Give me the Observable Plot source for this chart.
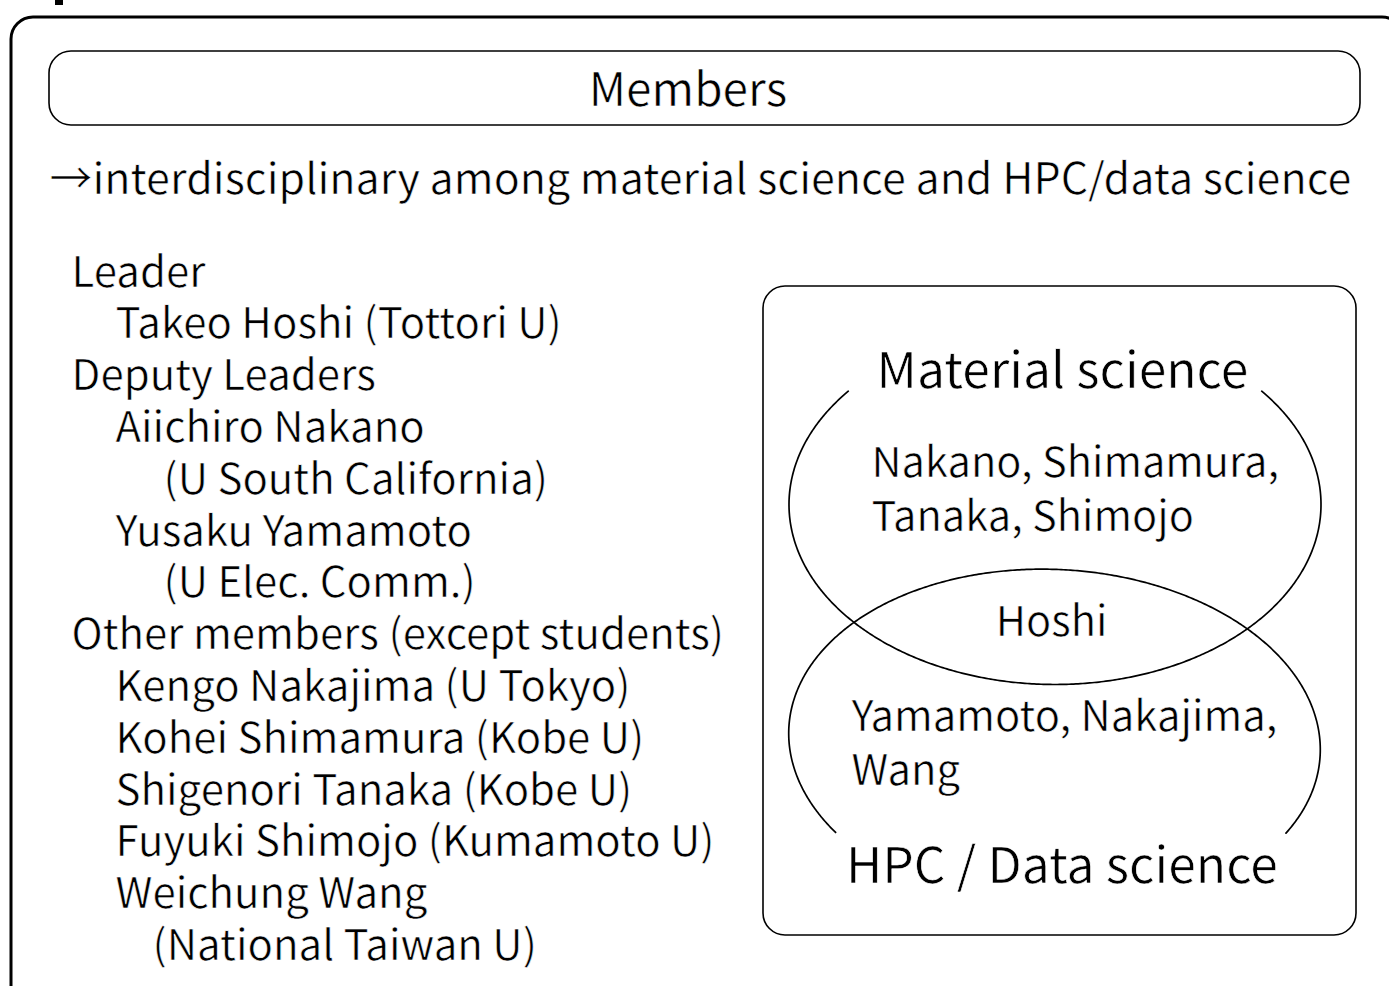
<!DOCTYPE html>
<html><head><meta charset="utf-8">
<script src="https://cdn.jsdelivr.net/npm/d3@7"></script>
<script src="https://cdn.jsdelivr.net/npm/@observablehq/plot@0.6"></script>
<style>body{margin:0;background:#fff;overflow:hidden}</style>
</head><body><div id="chart"></div>
<script>
// ---- content ----
const titleText = ["Members"];
const subtitleText = ["→interdisciplinary among material science and HPC/data science"];
const memberText = [
  "Leader",
  "Takeo Hoshi (Tottori U)",
  "Deputy Leaders",
  "Aiichiro Nakano",
  "(U South California)",
  "Yusaku Yamamoto",
  "(U Elec. Comm.)",
  "Other members (except students)",
  "Kengo Nakajima (U Tokyo)",
  "Kohei Shimamura (Kobe U)",
  "Shigenori Tanaka (Kobe U)",
  "Fuyuki Shimojo (Kumamoto U)",
  "Weichung Wang",
  "(National Taiwan U)"
];
const memberLevel = [0, 1, 0, 1, 2, 1, 2, 0, 1, 1, 1, 1, 1, 3];
const setNames = ["Material science", "HPC / Data science"];
const materialOnly = ["Nakano, Shimamura,", "Tanaka, Shimojo"];
const bothSets = ["Hoshi"];
const hpcOnly = ["Yamamoto, Nakajima,", "Wang"];

// ---- layout (pixel space) ----
const FONT = "'Noto Sans CJK JP', 'Noto Sans', sans-serif";
const W = 1389, H = 986;
const boxes = [
  {x1: 11, y1: 17, x2: 1404, y2: 1012, sw: 3},     // outer frame (clipped)
  {x1: 49, y1: 51, x2: 1360, y2: 125, sw: 1.6},    // title box
  {x1: 763, y1: 286, x2: 1356, y2: 935, sw: 1.6}   // venn box
];
const topMark = [{x1: 55, x2: 63, y1: 0, y2: 5}];
const indent = [71, 115, 163, 152];
const listTop = 286, listStep = 51.8;
const setPos = [{x: 1062, y: 387}, {x: 1061.5, y: 882}];
const materialPos = {x: 871, y0: 476, step: 54};
const bothPos = {x: 1051, y: 635};
const hpcPos = {x: 851, y0: 730, step: 54};
const ellipses = [
  {id: "upper", cx: 1054.5, cy: 504, rx: 266, ry: 180, rot: 0, start: -Math.PI / 2, keep: y => y > 390},
  {id: "lower", cx: 1054, cy: 741, rx: 266, ry: 172, rot: 3 * Math.PI / 180, start: Math.PI / 2, keep: y => y < 833}
];

// ellipse outlines (shape geometry from the ellipse parameters)
const outline = [];
for (const e of ellipses) {
  const n = 720;
  for (let i = 0; i <= n; i++) {
    const t = e.start + (i / n) * 2 * Math.PI;
    const ux = e.rx * Math.cos(t), uy = e.ry * Math.sin(t);
    const x = e.cx + ux * Math.cos(e.rot) - uy * Math.sin(e.rot);
    const y = e.cy + ux * Math.sin(e.rot) + uy * Math.cos(e.rot);
    if (e.keep(y)) outline.push({id: e.id, x, y});
  }
}

const textStyle = {text: d => d, lineAnchor: "bottom", fontFamily: FONT, fill: "black", stroke: "white", strokeWidth: 0.6, paintOrder: "normal"};

const plot = Plot.plot({
  width: W, height: H, margin: 0,
  x: {domain: [0, W], range: [0, W], axis: null},
  y: {domain: [0, H], range: [0, H], axis: null},
  style: {background: "white", fontFamily: FONT},
  marks: [
    Plot.rect(boxes, {x1: "x1", x2: "x2", y1: "y1", y2: "y2", rx: 22, fill: "none", stroke: "black", strokeWidth: d => d.sw}),
    Plot.rect(topMark, {x1: "x1", x2: "x2", y1: "y1", y2: "y2", fill: "black"}),
    Plot.line(outline, {x: "x", y: "y", z: "id", stroke: "black", strokeWidth: 1.7, curve: "linear"}),
    Plot.text(titleText, {...textStyle, x: 687.5, y: 105, textAnchor: "middle", fontSize: 46}),
    Plot.text(subtitleText, {...textStyle, x: 49, y: 193, textAnchor: "start", fontSize: 43}),
    Plot.text(memberText, {
      ...textStyle,
      x: (d, i) => indent[memberLevel[i]], y: (d, i) => listTop + i * listStep,
      textAnchor: "start", fontSize: 42
    }),
    Plot.text(setNames, {
      ...textStyle,
      x: (d, i) => setPos[i].x, y: (d, i) => setPos[i].y,
      textAnchor: "middle", fontSize: 49.8
    }),
    Plot.text(materialOnly, {
      ...textStyle,
      x: materialPos.x, y: (d, i) => materialPos.y0 + i * materialPos.step,
      textAnchor: "start", fontSize: 41.6
    }),
    Plot.text(bothSets, {...textStyle, x: bothPos.x, y: bothPos.y, textAnchor: "middle", fontSize: 41.6}),
    Plot.text(hpcOnly, {
      ...textStyle,
      x: hpcPos.x, y: (d, i) => hpcPos.y0 + i * hpcPos.step,
      textAnchor: "start", fontSize: 41.8
    })
  ]
});
document.getElementById("chart").append(plot);
</script>
</body></html>
